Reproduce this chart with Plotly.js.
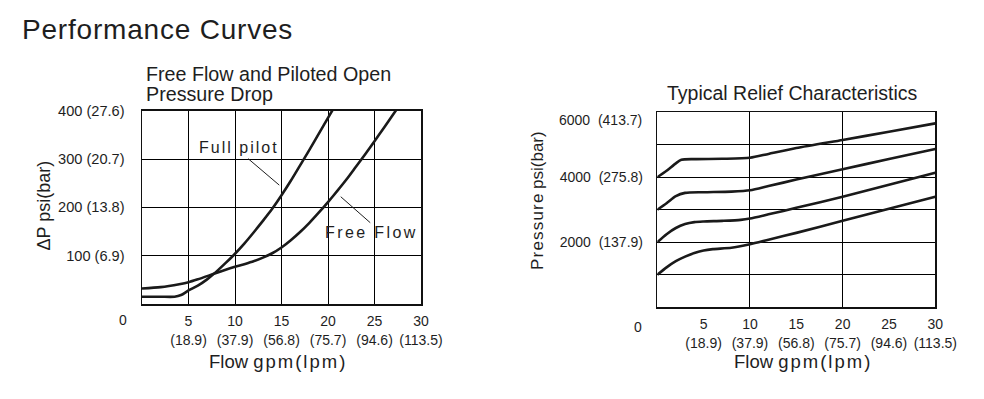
<!DOCTYPE html>
<html>
<head>
<meta charset="utf-8">
<script src="https://cdn.plot.ly/plotly-3.0.1.min.js"></script>
<style>
  html, body { margin: 0; padding: 0; background: #fff; }
  #chart { width: 984px; height: 399px; }
</style>
</head>
<body>
<div id="chart"></div>
<script>
// ---------- data ----------
const FLOW_TICKS = [5, 10, 15, 20, 25, 30];
const FLOW_LPM = ['18.9', '37.9', '56.8', '75.7', '94.6', '113.5'];

const DP_TICKS = [100, 200, 300, 400];
const DP_BAR = ['6.9', '13.8', '20.7', '27.6'];

const RELIEF_GRID = [1000, 2000, 3000, 4000, 5000, 6000];
const RELIEF_LABELS = ['', '2000\u00a0\u00a0(137.9)', '', '4000\u00a0\u00a0(275.8)', '', ''];
const RELIEF_TOP_LABEL = '6000\u00a0\u00a0(413.7)';
const RELIEF_TOP_VALUE = 6000;

// Free Flow and Piloted Open Pressure Drop (gpm, psi)
const fullPilotX = [0, 2, 3.5, 4.2, 5, 6, 7, 8, 9, 10, 11, 12, 13, 14, 15, 16, 17, 18, 19, 20, 21];
const fullPilotY = [15, 15, 15, 18.5, 28, 38, 51, 67, 85, 104, 125, 148, 172, 197, 225, 255, 287, 319, 352, 385, 418];

const freeFlowX = [0, 2, 4, 5, 6, 7.5, 9, 10, 11, 12, 13, 14, 15, 16, 17, 18, 19, 20, 21, 22, 23, 24, 25, 26, 27, 28];
const freeFlowY = [32, 35, 41, 45, 51, 61, 71, 77, 82.5, 88.5, 96, 105, 117, 132, 149, 168, 189, 211, 234, 258, 284, 310, 337, 364, 392, 420];

// Typical Relief Characteristics (gpm, psi)
const relief1X = [0, 1, 2, 2.6, 4, 7, 10, 12, 15, 20, 25, 30];
const relief1Y = [4000, 4200, 4430, 4540, 4560, 4570, 4600, 4720, 4900, 5150, 5400, 5660];
const relief2X = [0, 1, 2, 3, 5, 8, 10, 12, 15, 20, 25, 30];
const relief2Y = [3000, 3200, 3420, 3520, 3540, 3560, 3600, 3730, 3930, 4250, 4560, 4870];
const relief3X = [0, 1, 2, 3, 4, 5, 7, 9, 10, 12, 15, 20, 25, 30];
const relief3Y = [2000, 2250, 2440, 2560, 2620, 2640, 2660, 2690, 2730, 2860, 3060, 3400, 3770, 4140];
const relief4X = [0, 1, 2, 3, 4, 5, 6, 8, 10, 12, 15, 20, 25, 30];
const relief4Y = [1000, 1230, 1420, 1560, 1670, 1750, 1790, 1830, 1940, 2080, 2290, 2660, 3030, 3400];

// pointer tips for the curve labels (gpm, psi)
const fullPilotTip = [14.76, 246];
const freeFlowTip = [21.37, 222];

// ---------- build ----------
const W = 984, H = 399;
const px = v => v / W;
const py = v => 1 - v / H;
const FONT = '"Liberation Sans", Arial, Helvetica, sans-serif';
const INK = '#1e1e1e';
const LINE = '#1a1a1a';

const flowText = FLOW_TICKS.map((v, i) => v + '<br>(' + FLOW_LPM[i] + ')');
const dpText = DP_TICKS.map((v, i) => v + ' (' + DP_BAR[i] + ')');

function curve(x, y, xa, ya) {
  return {
    x: x, y: y, xaxis: xa, yaxis: ya, type: 'scatter', mode: 'lines',
    line: { color: LINE, width: 2.6, shape: 'spline', smoothing: 0.7 },
    hoverinfo: 'skip', showlegend: false
  };
}

const traces = [
  curve(fullPilotX, fullPilotY, 'x', 'y'),
  curve(freeFlowX, freeFlowY, 'x', 'y'),
  curve(relief1X, relief1Y, 'x2', 'y2'),
  curve(relief2X, relief2Y, 'x2', 'y2'),
  curve(relief3X, relief3Y, 'x2', 'y2'),
  curve(relief4X, relief4Y, 'x2', 'y2'),
  // carrier for the labelled overlay axis (invisible)
  { x: relief1X, y: relief1Y, xaxis: 'x3', yaxis: 'y2', type: 'scatter', mode: 'lines',
    line: { width: 0, color: 'rgba(0,0,0,0)' }, hoverinfo: 'skip', showlegend: false }
];

const gridAxis = {
  showgrid: true, gridcolor: '#000', gridwidth: 1,
  showline: true, linecolor: '#111', linewidth: 1.5, mirror: true,
  zeroline: false, ticks: '', fixedrange: true,
  tickfont: { family: FONT, size: 14, color: INK }
};

const layout = {
  width: W, height: H,
  margin: { l: 0, r: 0, t: 0, b: 0 },
  paper_bgcolor: '#fff', plot_bgcolor: '#fff',
  font: { family: FONT, color: INK },
  showlegend: false,
  title: {
    text: '<span style="letter-spacing:0.8px">Performance Curves</span>',
    x: px(22), xanchor: 'left', y: py(29), yanchor: 'middle',
    font: { family: FONT, size: 28, color: INK }
  },
  xaxis: Object.assign({}, gridAxis, {
    domain: [px(142), px(421)], range: [0, 30], anchor: 'y',
    tickmode: 'array', tickvals: FLOW_TICKS, ticktext: flowText,
    ticklabelstandoff: 4
  }),
  yaxis: Object.assign({}, gridAxis, {
    domain: [1 - 304 / H, 1 - 110.7 / H], range: [0, 400], anchor: 'x',
    tickmode: 'array', tickvals: DP_TICKS, ticktext: dpText,
    tickfont: { family: FONT, size: 14.6, color: INK },
    ticklabelstandoff: 13
  }),
  xaxis2: Object.assign({}, gridAxis, {
    domain: [px(657.3), px(935.3)], range: [0, 30], anchor: 'y2',
    tickmode: 'linear', tick0: 0, dtick: 10, showticklabels: false
  }),
  xaxis3: {
    overlaying: 'x2', anchor: 'y2', side: 'bottom', range: [0, 30],
    domain: [px(657.3), px(935.3)],
    showgrid: false, showline: false, zeroline: false, ticks: '', fixedrange: true,
    tickmode: 'array', tickvals: FLOW_TICKS, ticktext: flowText,
    tickfont: { family: FONT, size: 14, color: INK },
    ticklabelstandoff: 7
  },
  yaxis2: Object.assign({}, gridAxis, {
    domain: [1 - 307.3 / H, 1 - 112.3 / H], range: [0, 6000], anchor: 'x2',
    tickmode: 'array', tickvals: RELIEF_GRID, ticktext: RELIEF_LABELS,
    ticklabelstandoff: 10
  }),
  annotations: [
    // sub-titles
    { text: 'Free Flow and Piloted Open', xref: 'paper', yref: 'paper',
      x: px(144), y: py(74), xanchor: 'left', yanchor: 'middle', showarrow: false,
      font: { family: FONT, size: 19.7, color: INK } },
    { text: 'Pressure Drop', xref: 'paper', yref: 'paper',
      x: px(144), y: py(94.5), xanchor: 'left', yanchor: 'middle', showarrow: false,
      font: { family: FONT, size: 19.7, color: INK } },
    { text: 'Typical Relief Characteristics', xref: 'paper', yref: 'paper',
      x: px(792), y: py(93), xanchor: 'center', yanchor: 'middle', showarrow: false,
      font: { family: FONT, size: 19.5, color: INK } },
    // origin labels
    { text: '0', xref: 'paper', yref: 'paper', x: px(123), y: py(320),
      xanchor: 'center', yanchor: 'middle', showarrow: false,
      font: { family: FONT, size: 14, color: INK } },
    { text: '0', xref: 'paper', yref: 'paper', x: px(638), y: py(326.5),
      xanchor: 'center', yanchor: 'middle', showarrow: false,
      font: { family: FONT, size: 14, color: INK } },
    // top relief label
    { text: RELIEF_TOP_LABEL, xref: 'paper', yref: 'y2', x: px(644), y: RELIEF_TOP_VALUE,
      yshift: -8, xanchor: 'right', yanchor: 'middle', showarrow: false,
      font: { family: FONT, size: 14, color: INK } },
    // axis titles
    { text: 'Flow <span style="letter-spacing:2px">gpm(lpm)</span>', xref: 'paper', yref: 'paper',
      x: px(278), y: py(361.5), xanchor: 'center', yanchor: 'middle', showarrow: false,
      font: { family: FONT, size: 18.5, color: INK } },
    { text: 'Flow <span style="letter-spacing:2px">gpm(lpm)</span>', xref: 'paper', yref: 'paper',
      x: px(803), y: py(361.5), xanchor: 'center', yanchor: 'middle', showarrow: false,
      font: { family: FONT, size: 18.5, color: INK } },
    { text: '\u0394P psi(bar)', xref: 'paper', yref: 'paper', textangle: -90,
      x: px(43.5), y: py(206), xanchor: 'center', yanchor: 'middle', showarrow: false,
      font: { family: FONT, size: 18, color: INK } },
    { text: '<span style="letter-spacing:1.2px">Pressure</span>\u2009psi(bar)', xref: 'paper', yref: 'paper', textangle: -90,
      x: px(537), y: py(201), xanchor: 'center', yanchor: 'middle', showarrow: false,
      font: { family: FONT, size: 17, color: INK } },
    // curve labels
    { text: '<span style="letter-spacing:2px">Full pilot</span>', xref: 'paper', yref: 'paper',
      x: px(239), y: py(147), xanchor: 'center', yanchor: 'middle', showarrow: false,
      font: { family: FONT, size: 16, color: INK } },
    { text: '<span style="letter-spacing:2.4px">Free Flow</span>', xref: 'paper', yref: 'paper',
      x: px(371), y: py(232.5), xanchor: 'center', yanchor: 'middle', showarrow: false,
      font: { family: FONT, size: 16, color: INK } },
    // pointers
    { text: '', xref: 'x', yref: 'y', x: fullPilotTip[0], y: fullPilotTip[1],
      showarrow: true, arrowhead: 0, arrowwidth: 1, arrowcolor: INK, ax: -32.6, ay: -27.7, standoff: 0 },
    { text: '', xref: 'x', yref: 'y', x: freeFlowTip[0], y: freeFlowTip[1],
      showarrow: true, arrowhead: 0, arrowwidth: 1, arrowcolor: INK, ax: 31, ay: 27.3, standoff: 0 }
  ]
};

Plotly.newPlot('chart', traces, layout, { staticPlot: true, displayModeBar: false });
</script>
</body>
</html>
